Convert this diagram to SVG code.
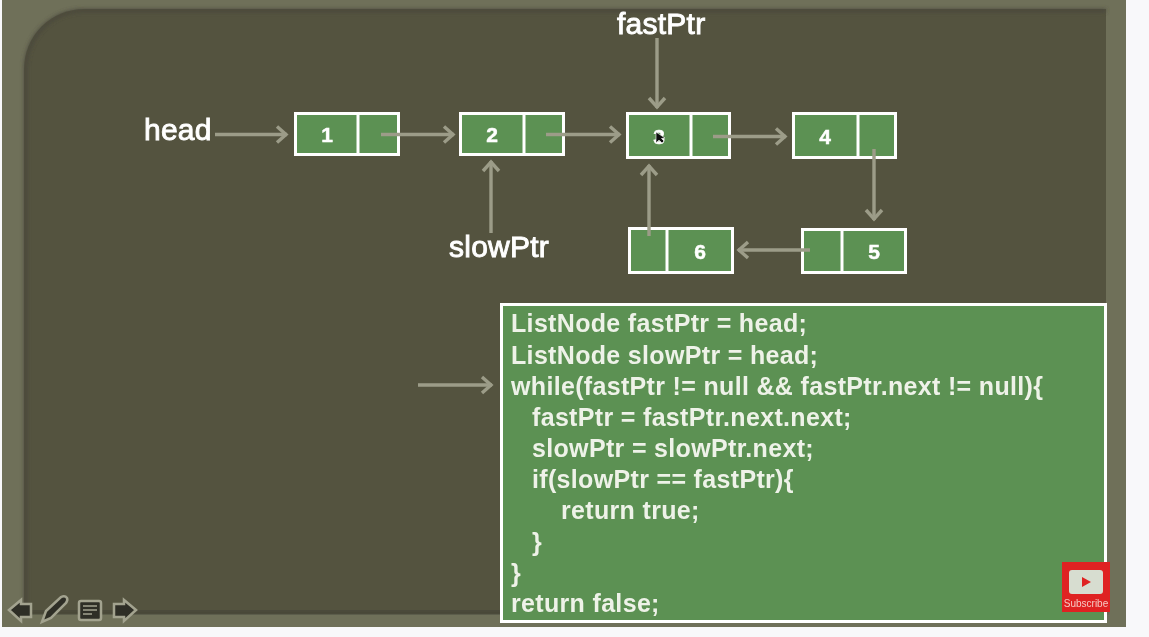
<svg xmlns="http://www.w3.org/2000/svg" width="1149" height="637" viewBox="0 0 1149 637">
<defs>
<marker id="ah" markerUnits="userSpaceOnUse" markerWidth="22" markerHeight="22" refX="17" refY="11" orient="auto"><path d="M7 3L16 11L7 19" fill="none" stroke="#9c9c88" stroke-width="3.400"/></marker>
<filter id="soft" x="-5%" y="-5%" width="110%" height="110%"><feGaussianBlur stdDeviation="0.45"/></filter>
<filter id="shadow" x="-5%" y="-5%" width="110%" height="110%"><feGaussianBlur stdDeviation="2"/></filter>
</defs>
<style>
text{font-family:"Liberation Sans",Arial,sans-serif;fill:#fff}
.lbl{font-size:30px;stroke:#fff;stroke-width:.9px;letter-spacing:.25px}
.num{font-size:21px;font-weight:bold;text-anchor:middle;stroke:#fff;stroke-width:.5px}
.code{font-size:25px;font-weight:bold;fill:#eef2e8;letter-spacing:.33px}
.cell{fill:#5b9152;stroke:#fff;stroke-width:3}
.div{stroke:#fff;stroke-width:3}
.conn{fill:none;stroke:#9c9c88;stroke-width:3.400;marker-end:url(#ah)}
.ico{fill:#2e2e25;stroke:#a3a38f;stroke-width:2.500}
</style>
<rect width="1149" height="637" fill="#f8f8fa"/>
<rect x="2" y="0" width="1124" height="627" fill="#6f7059"/>
<path d="M84 9H1106V614H24V69A60 60 0 0 1 84 9Z" fill="#54533f"/>
<path d="M84 9H1106V12H84A57 57 0 0 0 27 69V614H24V69A60 60 0 0 1 84 9Z" fill="#46453a" filter="url(#shadow)"/>
<rect x="24" y="611" width="1082" height="3" fill="#3e3d30" filter="url(#shadow)"/>
<g filter="url(#soft)">
<g id="node1"><rect class="cell" x="295.500" y="113.500" width="103" height="41"/><path class="div" d="M358 113V155"/><text class="num" x="327" y="142">1</text></g>
<g id="node2"><rect class="cell" x="460.500" y="113.500" width="103" height="41"/><path class="div" d="M524 113V155"/><text class="num" x="492" y="142">2</text></g>
<g id="node3"><rect class="cell" x="627.500" y="113.500" width="102" height="44"/><path class="div" d="M691 113V158"/><text class="num" x="659" y="144">3</text><path d="M656 132L656 143L659 140L662 143L664 141L661.500 138.500L665 138Z" fill="#111" stroke="#fff" stroke-width=".6"/></g>
<g id="node4"><rect class="cell" x="793.500" y="113.500" width="102" height="44"/><path class="div" d="M858 113V158"/><text class="num" x="825" y="144">4</text></g>
<g id="node5"><rect class="cell" x="802.500" y="229.500" width="103" height="43"/><path class="div" d="M842 229V273"/><text class="num" x="874" y="259">5</text></g>
<g id="node6"><rect class="cell" x="629.500" y="228.500" width="103" height="44"/><path class="div" d="M667 228V273"/><text class="num" x="700" y="259">6</text></g>
<g id="connectors">
<path class="conn" d="M215 134.500H287"/>
<path class="conn" d="M381 134.500H454"/>
<path class="conn" d="M546 134.500H620"/>
<path class="conn" d="M713 136.500H786"/>
<path class="conn" d="M657 38V108"/>
<path class="conn" d="M491 233V161"/>
<path class="conn" d="M874 149V220"/>
<path class="conn" d="M810 250H738"/>
<path class="conn" d="M649 236V165"/>
<path class="conn" d="M418 385H492"/>
</g>
<g id="label-head"><text class="lbl" x="144" y="140">head</text></g>
<g id="label-fastPtr"><text class="lbl" x="617" y="34">fastPtr</text></g>
<g id="label-slowPtr"><text class="lbl" x="449" y="257">slowPtr</text></g>
<g id="code">
<rect x="501.500" y="304.500" width="604" height="317" fill="#5b9152" stroke="#fff" stroke-width="3"/>
<text class="code" x="511" y="332">ListNode fastPtr = head;</text>
<text class="code" x="511" y="364">ListNode slowPtr = head;</text>
<text class="code" x="511" y="395">while(fastPtr != null &amp;&amp; fastPtr.next != null){</text>
<text class="code" x="532" y="426">fastPtr = fastPtr.next.next;</text>
<text class="code" x="532" y="457">slowPtr = slowPtr.next;</text>
<text class="code" x="532" y="488">if(slowPtr == fastPtr){</text>
<text class="code" x="561" y="519">return true;</text>
<text class="code" x="532" y="551">}</text>
<text class="code" x="511" y="582">}</text>
<text class="code" x="511" y="612">return false;</text>
</g>
<g id="toolbar">
<path class="ico" d="M9 610L21 600V604H31V617H21V621Z"/>
<path class="ico" d="M42 622L46 611L61 597Q65 595 67 598Q68 600 66 603L51 618Z"/>
<rect class="ico" x="79" y="601" width="22" height="19" rx="2"/>
<path d="M83 606H97M83 610H97M83 614H92" stroke="#a3a38f" stroke-width="1.500"/>
<path class="ico" d="M136 610L124 600V604H114V617H124V621Z"/>
</g>
<g id="subscribe">
<rect x="1062" y="562" width="48" height="50" fill="#df2222"/>
<rect x="1069" y="570" width="34" height="24" rx="3" fill="#d7ddd0"/>
<path d="M1082 577L1091 582L1082 587Z" fill="#df2222"/>
<text x="1086" y="607" font-size="10" text-anchor="middle" style="fill:#f5c9c2">Subscribe</text>
</g>
</g>
</svg>
